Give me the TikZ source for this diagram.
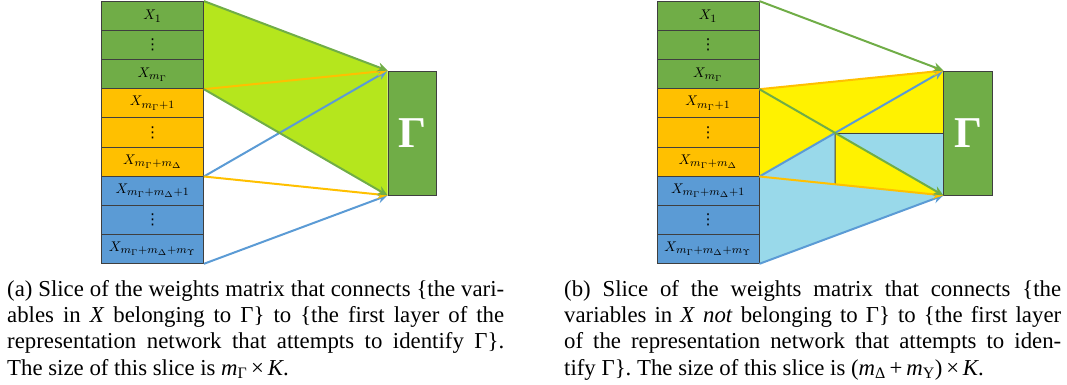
\documentclass[tikz,border=0pt]{standalone}
\usepackage{fontspec}
\setmainfont{Liberation Serif}
\newfontfamily\djv{DejaVu Sans}
\DeclareMathSizes{10}{10}{8}{6}
\usetikzlibrary{arrows.meta,calc}
\definecolor{cgreen}{HTML}{70AD47}
\definecolor{corange}{HTML}{FFC000}
\definecolor{cblue}{HTML}{5B9BD5}
\definecolor{cyg}{HTML}{B5E61D}
\definecolor{cyellow}{HTML}{FFF200}
\definecolor{clblue}{HTML}{99D9EA}
\definecolor{cborder}{HTML}{3F3F3F}
\pgfdeclarelayer{bg}
\pgfsetlayers{bg,main}
\newcommand\lab[1]{\scalebox{1.4}{$#1$}}
\newcommand\vd{{\djv\fontsize{15}{15}\selectfont ⋮}}
\newcommand\mkcol[2]{%
  \node[gcell] (#1-1) at (#2,16.05) {\lab{X_1}};
  \node[gcell] (#1-2) at (#2,45.15) {\vd};
  \node[gcell] (#1-3) at (#2,74.25) {\lab{X_{m_\Gamma}}};
  \node[ocell] (#1-4) at (#2,103.35) {\lab{X_{m_\Gamma+1}}};
  \node[ocell] (#1-5) at (#2,132.45) {\vd};
  \node[ocell] (#1-6) at (#2,161.55) {\lab{X_{m_\Gamma+m_\Delta}}};
  \node[bcell] (#1-7) at (#2,190.65) {\lab{X_{m_\Gamma+m_\Delta+1}}};
  \node[bcell] (#1-8) at (#2,219.75) {\vd};
  \node[bcell] (#1-9) at (#2,248.85) {\lab{X_{m_\Gamma+m_\Delta+m_\Upsilon}}};
}
\newcommand\mkarrows[1]{%
  \draw[arr,cblue] (#1-6.south east) -- (#1-g.north west);
  \draw[arr,cblue] (#1-9.south east) -- (#1-g.south west);
  \draw[arr,corange] (#1-3.south east) -- (#1-g.north west);
  \draw[arr,corange] (#1-6.south east) -- (#1-g.south west);
  \draw[arr,cgreen] (#1-1.north east) -- (#1-g.north west);
  \draw[arr,cgreen] (#1-3.south east) -- (#1-g.south west);
}
\newcommand\mi[1]{\textit{#1}}
\begin{document}
\begin{tikzpicture}[x=1pt,y=-1pt,
  cell/.style={draw=cborder,line width=0.8pt,minimum width=102pt,minimum height=29.1pt,inner sep=0pt,font={\fontsize{10}{12}\selectfont}},
  gcell/.style={cell,fill=cgreen},
  ocell/.style={cell,fill=corange},
  bcell/.style={cell,fill=cblue},
  gam/.style={draw=cborder,line width=0.8pt,fill=cgreen,minimum width=48.5pt,minimum height=124pt,inner sep=0pt,text=white,font={\fontsize{44}{50}\selectfont\bfseries}},
  arr/.style={line width=2pt,-{Stealth[length=10pt,width=9pt]}},
  sepline/.style={draw=cborder,line width=0.8pt},
  captxt/.style={text width=497pt,align=justify,inner sep=0pt,font={\fontsize{22.8}{26.3}\selectfont}}]
\useasboundingbox (0,0) rectangle (1067,385);
% left panel
\mkcol{a}{152.5}
\node[gam] (a-g) at (412.25,133) {Γ};
\begin{pgfonlayer}{bg}
  \fill[cyg] (a-1.north east) -- (a-g.north west) -- (a-g.south west) -- (a-3.south east) -- cycle;
\end{pgfonlayer}
\mkarrows{a}
% right panel
\mkcol{b}{708}
\node[gam] (b-g) at (968,133) {Γ};
\coordinate (X) at (intersection of b-3.south east--b-g.south west and b-6.south east--b-g.north west);
\coordinate (Xd) at ($(X)+(0,60)$);
\coordinate (Y) at (intersection of X--Xd and b-6.south east--b-g.south west);
\begin{pgfonlayer}{bg}
  \fill[cyellow] (b-3.south east) -- (b-g.north west) -- (b-g.south west) -- (b-6.south east) -- cycle;
  \fill[clblue] (X) -- (X -| b-g.west) -- (b-g.south west) -- cycle;
  \fill[clblue] (b-6.south east) -- (X) -- (Y) -- cycle;
  \fill[clblue] (b-6.south east) -- (b-g.south west) -- (b-9.south east) -- cycle;
  \draw[sepline] (X) -- (X -| b-g.west);
  \draw[sepline] (X) -- (Y);
\end{pgfonlayer}
\mkarrows{b}
% captions
\node[captxt,anchor=north west] (capa) at (7,280) {\hyphenpenalty=10000 (a) Slice of the weights matrix that connects \{the vari-\linebreak ables in \mi{X} belonging to Γ\} to \{the first layer of the\linebreak representation network that attempts to identify Γ\}.\linebreak The size of this slice is \mi{m}\textsubscript{Γ}\,×\,\mi{K}.};
\node[captxt,anchor=north west] (capb) at (564,280) {\hyphenpenalty=10000 (b) Slice of the weights matrix that connects \{the\linebreak variables in \mi{X} \textit{not} belonging to Γ\} to \{the first layer\linebreak of the representation network that attempts to iden-\linebreak tify Γ\}. The size of this slice is (\mi{m}\textsubscript{Δ}\,+\,\mi{m}\textsubscript{Υ})\,×\,\mi{K}.};
\end{tikzpicture}
\end{document}
